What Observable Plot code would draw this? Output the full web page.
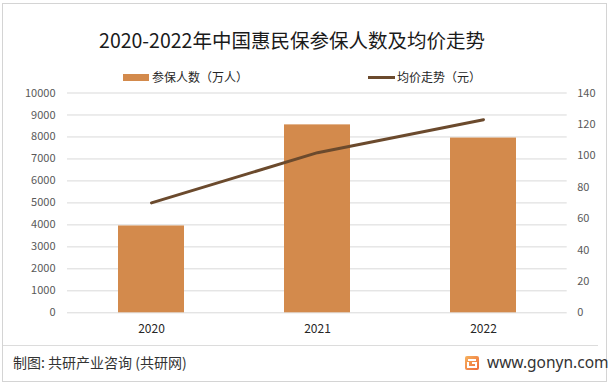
<!DOCTYPE html>
<html><head><meta charset="utf-8">
<script src="https://cdn.jsdelivr.net/npm/d3@7"></script>
<script src="https://cdn.jsdelivr.net/npm/@observablehq/plot@0.6"></script>
<style>
body{margin:0;background:#fff;font-family:"Noto Sans CJK SC","Noto Sans",sans-serif;}
#wrap{position:relative;width:614px;height:385px;overflow:hidden;background:#fff;}
#frame{position:absolute;left:2px;top:3px;width:603px;height:377px;border:1px solid #d4d4d4;}
#title{position:absolute;left:0;width:584px;top:27px;text-align:center;font-size:19.5px;line-height:26px;color:#1a1a1a;white-space:nowrap;}
#legend{position:absolute;top:68px;left:0;width:614px;height:18px;font-size:12px;color:#262626;}
.li{position:absolute;top:0;line-height:18px;white-space:nowrap;}
.sw1{position:absolute;width:26px;height:7px;background:#D38A4C;top:6px;}
.sw2{position:absolute;width:27px;height:3px;background:#6B4A2D;top:8px;}
#chart{position:absolute;left:0;top:0;}
#sep{position:absolute;left:3px;top:345px;width:595px;height:1px;background:#dcdcdc;}
#footer{position:absolute;left:13px;top:352px;font-size:14px;line-height:20px;color:#333;white-space:nowrap;}
#site{position:absolute;left:487px;top:351px;font-size:15.5px;line-height:22px;color:#333;white-space:nowrap;font-family:"Noto Sans","DejaVu Sans",sans-serif;}
#logo{position:absolute;left:465px;top:356px;width:14px;height:14px;}
</style></head><body>
<div id="wrap">
  <div id="frame"></div>
  <div id="title">2020-2022年中国惠民保参保人数及均价走势</div>
  <div id="legend">
    <div class="sw1" style="left:123px"></div><div class="li" style="left:152px">参保人数（万人）</div>
    <div class="sw2" style="left:368px"></div><div class="li" style="left:397px">均价走势（元）</div>
  </div>
  <div id="chart"></div>
  <div id="sep"></div>
  <div id="footer">制图: 共研产业咨询 (共研网)</div>
  <svg id="logo" viewBox="0 0 14 14"><defs><linearGradient id="lg" x1="0" y1="0" x2="1" y2="1"><stop offset="0" stop-color="#F6B25E"/><stop offset="1" stop-color="#EE6A3A"/></linearGradient></defs><rect x="0" y="0" width="14" height="14" rx="2" fill="url(#lg)"/><path d="M3 4 H11 M7 7 H11 V11 H3 V6" stroke="#fff" stroke-width="2" fill="none"/></svg>
  <div id="site">www.gonyn.com</div>
</div>
<script>
const years = ["2020", "2021", "2022"];
const people = [3950, 8550, 7950];   // 参保人数（万人）
const price = [70, 102, 123];        // 均价（元）
const leftTicks = d3.range(0, 10001, 1000);
const rightTicks = d3.range(0, 141, 20);

const k = 10000 / 140;
const data = years.map((y, i) => ({year: y, people: people[i], price: price[i]}));

const chart = Plot.plot({
  width: 614,
  height: 385,
  marginTop: 92.5,
  marginBottom: 72.7,
  marginLeft: 67,
  marginRight: 47.3,
  style: {fontFamily: '"Noto Sans CJK SC","Noto Sans",sans-serif', fontSize: "11px", color: "#595959", background: "transparent", overflow: "visible"},
  x: {domain: years, paddingInner: 0.6, paddingOuter: 0.3, label: null},
  y: {domain: [0, 10000], label: null},
  marks: [
    Plot.gridY({ticks: leftTicks, stroke: "#d9d9d9", strokeOpacity: 1}),
    Plot.barY(data, {x: "year", y: "people", fill: "#D38A4C"}),
    Plot.line(data, {x: "year", y: d => d.price * k, stroke: "#6B4A2D", strokeWidth: 3}),
    Plot.axisY({ticks: leftTicks, anchor: "left", tickSize: 0, tickPadding: 12, label: null, tickFormat: d => String(d)}),
    Plot.axisY({ticks: rightTicks.map(v => v * k), anchor: "right", tickSize: 0, tickPadding: 10, label: null, tickFormat: d => String(Math.round(d / k))}),
    Plot.axisX({tickSize: 0, tickPadding: 12, fontSize: 12, fill: "#262626", label: null})
  ]
});
document.getElementById("chart").appendChild(chart);
</script>
</body></html>
